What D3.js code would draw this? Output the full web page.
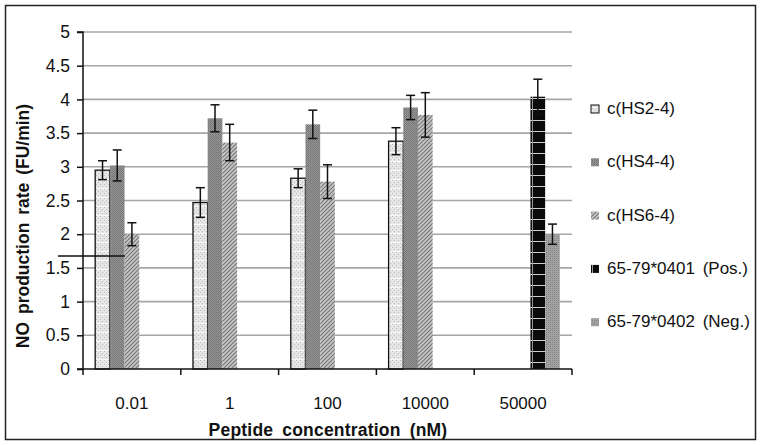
<!DOCTYPE html>
<html><head><meta charset="utf-8">
<script src="https://cdn.jsdelivr.net/npm/d3@7"></script>
<style>body{margin:0;background:#fff}svg{display:block}text{font-family:"Liberation Sans",Arial,sans-serif}</style>
</head><body>
<script>
const categories = ["0.01", "1", "100", "10000", "50000"];
const seriesNames = ["c(HS2-4)", "c(HS4-4)", "c(HS6-4)", "65-79*0401 (Pos.)", "65-79*0402 (Neg.)"];
const hs24 = [2.95, 2.47, 2.83, 3.38, null];
const hs24Err = [0.14, 0.22, 0.14, 0.20, null];
const hs44 = [3.02, 3.72, 3.63, 3.88, null];
const hs44Err = [0.23, 0.20, 0.21, 0.18, null];
const hs64 = [2.00, 3.36, 2.78, 3.77, null];
const hs64Err = [0.17, 0.27, 0.25, 0.33, null];
const pos = [null, null, null, null, 4.04];
const posErr = [null, null, null, null, 0.26];
const neg = [null, null, null, null, 2.00];
const negErr = [null, null, null, null, 0.15];
const yTicks = [0, 0.5, 1, 1.5, 2, 2.5, 3, 3.5, 4, 4.5, 5];

const values = [hs24, hs44, hs64, pos, neg];
const errs = [hs24Err, hs44Err, hs64Err, posErr, negErr];

const W = 762, H = 445;
const svg = d3.select("body").append("svg").attr("width", W).attr("height", H);

// patterns
const defs = svg.append("defs");
function pat(id, w, h, fn) {
  const p = defs.append("pattern").attr("id", id).attr("patternUnits", "userSpaceOnUse").attr("width", w).attr("height", h);
  fn(p);
}
pat("p0", 4, 9, p => {
  p.append("rect").attr("width", 4).attr("height", 9).attr("fill", "#e6e6e6");
  p.append("rect").attr("x", 0).attr("y", 0).attr("width", 1).attr("height", 1).attr("fill", "#bcbcbc");
  p.append("rect").attr("x", 2).attr("y", 2).attr("width", 1).attr("height", 1).attr("fill", "#bcbcbc");
  p.append("rect").attr("x", 0).attr("y", 4).attr("width", 1).attr("height", 1).attr("fill", "#bcbcbc");
  p.append("rect").attr("x", 2).attr("y", 6).attr("width", 1).attr("height", 1).attr("fill", "#bcbcbc");
  p.append("rect").attr("x", 0).attr("y", 8).attr("width", 4).attr("height", 1).attr("fill", "#f8f8f8");
});
pat("p1", 2, 2, p => {
  p.append("rect").attr("width", 2).attr("height", 2).attr("fill", "#969696");
  p.append("rect").attr("width", 1).attr("height", 1).attr("fill", "#727272");
  p.append("rect").attr("x", 1).attr("y", 1).attr("width", 1).attr("height", 1).attr("fill", "#7c7c7c");
});
pat("p2", 4, 4, p => {
  p.append("rect").attr("width", 4).attr("height", 4).attr("fill", "#c8c8c8");
  p.append("path").attr("d", "M-1,1 L1,-1 M0,4 L4,0 M3,5 L5,3").attr("stroke", "#777").attr("stroke-width", 1.2);
});
pat("p3", 15, 11, p => {
  p.append("rect").attr("width", 15).attr("height", 11).attr("fill", "#0a0a0a");
  p.append("rect").attr("x", 0).attr("y", 10).attr("width", 15).attr("height", 1).attr("fill", "#cfcfcf");
  p.append("rect").attr("x", 7).attr("y", 0).attr("width", 1).attr("height", 11).attr("fill", "#9a9a9a");
});
pat("p4", 2, 2, p => {
  p.append("rect").attr("width", 2).attr("height", 2).attr("fill", "#a2a2a2");
  p.append("rect").attr("width", 1).attr("height", 1).attr("fill", "#858585");
});

// outer border
svg.append("rect").attr("x", 5.5).attr("y", 5.5).attr("width", 750).attr("height", 434)
  .attr("fill", "none").attr("stroke", "#222").attr("stroke-width", 1.5);

const x0 = 83, x1 = 572, y0 = 369, y1 = 32;
const x = d3.scaleBand().domain(categories).range([x0, x1]).paddingInner(0).paddingOuter(0);
const xs = d3.scaleBand().domain(seriesNames).range([0, x.bandwidth()]).paddingInner(0).paddingOuter(0.83);
const y = d3.scaleLinear().domain([0, 5]).range([y0, y1]);

// gridlines
svg.append("g").selectAll("line").data(yTicks.filter(t => t > 0)).join("line")
  .attr("x1", x0).attr("x2", x1).attr("y1", d => y(d)).attr("y2", d => y(d))
  .attr("stroke", "#a6a6a6").attr("stroke-width", 1.6);

// bars
const barData = [];
values.forEach((arr, si) => arr.forEach((v, ci) => {
  if (v != null) barData.push({ s: si, c: categories[ci], v, e: errs[si][ci] });
}));
svg.append("g").selectAll("rect").data(barData).join("rect")
  .attr("x", d => x(d.c) + xs(seriesNames[d.s]))
  .attr("y", d => y(d.v))
  .attr("width", xs.bandwidth())
  .attr("height", d => y(0) - y(d.v))
  .attr("fill", d => `url(#p${d.s})`)
  .attr("stroke", d => d.s === 0 ? "#111" : "none")
  .attr("stroke-width", 1.3);

// error bars
const eg = svg.append("g").attr("stroke", "#111").attr("stroke-width", 1.5).attr("fill", "none");
barData.forEach(d => {
  const cx = x(d.c) + xs(seriesNames[d.s]) + xs.bandwidth() / 2;
  const t = y(d.v + d.e), b = y(d.v - d.e);
  eg.append("line").attr("x1", cx).attr("x2", cx).attr("y1", t).attr("y2", b);
  eg.append("line").attr("x1", cx - 4.5).attr("x2", cx + 4.5).attr("y1", t).attr("y2", t);
  eg.append("line").attr("x1", cx - 4.5).attr("x2", cx + 4.5).attr("y1", b).attr("y2", b);
});

// stray line in the reference
svg.append("line").attr("x1", 58).attr("x2", 125).attr("y1", 256).attr("y2", 256)
  .attr("stroke", "#111").attr("stroke-width", 1.4);

// y axis
const yAxis = svg.append("g").attr("transform", `translate(${x0},0)`)
  .call(d3.axisLeft(y).tickValues(yTicks).tickSize(6).tickPadding(7).tickFormat(d => String(d)));
yAxis.select(".domain").attr("stroke", "#111").attr("stroke-width", 1.5).attr("d", `M-6,${y1}H0V${y0}H-6`);
yAxis.selectAll(".tick line").attr("stroke", "#111").attr("stroke-width", 1.5);
yAxis.selectAll("text").attr("font-size", 17.5).attr("fill", "#111");

// x axis
const xAxis = svg.append("g").attr("transform", `translate(0,${y0})`)
  .call(d3.axisBottom(x).tickSize(0).tickPadding(28));
xAxis.select(".domain").attr("stroke", "#111").attr("stroke-width", 1.5).attr("d", `M${x0},0H${x1}`);
xAxis.selectAll("text").attr("font-size", 17).attr("fill", "#111");
const bounds = categories.map(c => x(c)).concat([x1]);
svg.append("g").selectAll("line").data(bounds).join("line")
  .attr("x1", d => d).attr("x2", d => d).attr("y1", y0).attr("y2", y0 + 6)
  .attr("stroke", "#111").attr("stroke-width", 1.5);

// axis titles
svg.append("text").attr("x", 328).attr("y", 436).attr("text-anchor", "middle")
  .attr("font-size", 17.5).attr("font-weight", "bold").attr("word-spacing", 4).attr("letter-spacing", 0.2).attr("fill", "#111")
  .text("Peptide concentration (nM)");
svg.append("text").attr("transform", "translate(29,226) rotate(-90)").attr("text-anchor", "middle")
  .attr("font-size", 17.5).attr("font-weight", "bold").attr("word-spacing", 3).attr("letter-spacing", 0).attr("fill", "#111")
  .text("NO production rate (FU/min)");

// legend
const lg = svg.append("g");
seriesNames.forEach((s, i) => {
  const cy = 108 + i * 53.3;
  lg.append("rect").attr("x", 591).attr("y", cy - 3).attr("width", 8).attr("height", 8)
    .attr("fill", `url(#p${i})`).attr("stroke", i === 0 ? "#111" : "none").attr("stroke-width", 1);
  lg.append("text").attr("x", 607).attr("y", cy + 6).attr("font-size", 17).attr("word-spacing", 3).attr("fill", "#111").text(s);
});
</script>
</body></html>
